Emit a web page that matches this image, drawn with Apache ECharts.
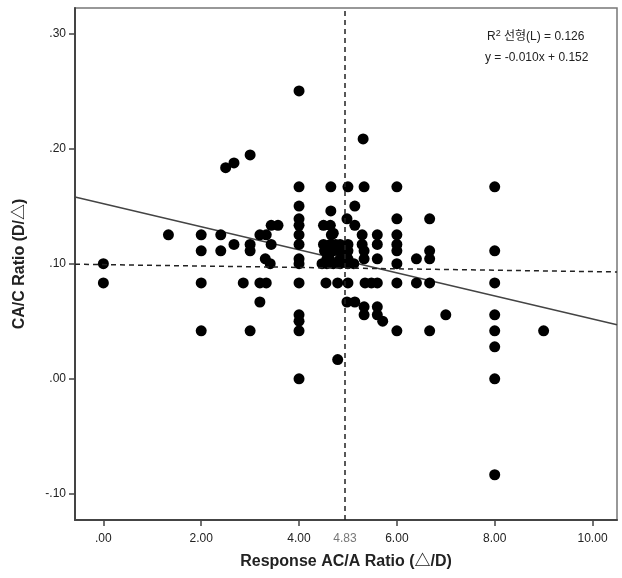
<!DOCTYPE html>
<html>
<head>
<meta charset="utf-8">
<script src="https://cdn.jsdelivr.net/npm/echarts@6/dist/echarts.min.js"></script>
<style>
  html, body { margin: 0; padding: 0; background: #fff; }
  #chart { width: 622px; height: 578px; }
</style>
</head>
<body>
<div id="chart"></div>
<script>
// tick labels
var xTicks = [0, 2, 4, 6, 8, 10];
var yTicks = [-0.1, 0, 0.1, 0.2, 0.3];

// response AC/A ratio (x) and CA/C ratio (y)
var acaRatio = [
    0, 0,
    1.33,
    2, 2, 2, 2,
    2.4, 2.4,
    2.5, 2.67, 2.67,
    2.86,
    3, 3, 3, 3,
    3.2, 3.2, 3.2,
    3.33, 3.33, 3.31,
    3.43, 3.43, 3.41,
    3.57,
    4, 4, 4, 4, 4, 4, 4, 4, 4, 4, 4, 4, 4, 4,
    4.5, 4.5, 4.47, 4.55,
    4.65, 4.65, 4.64, 4.64, 4.7, 4.7, 4.62, 4.57, 4.7,
    4.57, 4.75, 4.52, 4.66,
    4.84, 4.84, 4.84, 4.84, 4.79, 4.79,
    5, 4.98, 5, 5, 5, 5, 5, 4.98,
    5.14, 5.14, 5.12, 5.14,
    5.31, 5.33, 5.29, 5.29, 5.33, 5.33, 5.35, 5.33, 5.33,
    5.48,
    5.6, 5.6, 5.6, 5.6, 5.6, 5.6,
    5.71,
    6, 6, 6, 6, 6, 6, 6, 6,
    6.4, 6.4,
    6.67, 6.67, 6.67, 6.67, 6.67,
    7,
    8, 8, 8, 8, 8, 8, 8, 8,
    9
];
var cacRatio = [
    0.1, 0.0833,
    0.125,
    0.125, 0.1111, 0.0833, 0.0417,
    0.125, 0.1111,
    0.1833, 0.1875, 0.1167,
    0.0833,
    0.1944, 0.1167, 0.1111, 0.0417,
    0.125, 0.0833, 0.0667,
    0.125, 0.0833, 0.1042,
    0.1333, 0.1167, 0.1,
    0.1333,
    0.25, 0.1667, 0.15, 0.1389, 0.1333, 0.125, 0.1167, 0.1042, 0.1, 0.0833, 0.0556, 0.05, 0.0417, 0,
    0.1333, 0.1167, 0.1, 0.0833,
    0.1667, 0.1458, 0.1333, 0.1167, 0.1264, 0.1111, 0.1042, 0.1, 0.1,
    0.1042, 0.1167, 0.1111, 0.125,
    0.1167, 0.1111, 0.1042, 0.1, 0.0833, 0.0167,
    0.1667, 0.1389, 0.1167, 0.1111, 0.1042, 0.1, 0.0833, 0.0667,
    0.15, 0.1333, 0.1, 0.0667,
    0.2083, 0.1667, 0.125, 0.1167, 0.1111, 0.1042, 0.0833, 0.0625, 0.0556,
    0.0833,
    0.125, 0.1167, 0.1042, 0.0833, 0.0625, 0.0556,
    0.05,
    0.1667, 0.1389, 0.125, 0.1167, 0.1111, 0.1, 0.0833, 0.0417,
    0.1042, 0.0833,
    0.1389, 0.1111, 0.1042, 0.0833, 0.0417,
    0.0556,
    0.1667, 0.1111, 0.0833, 0.0556, 0.0417, 0.0278, 0, -0.0833,
    0.0417
];

// linear fit shown in the plot
var fitSlope = -0.010;
var fitIntercept = 0.152;
var xRange = [-0.58, 10.5];
var yRange = [-0.1226, 0.322];
// reference lines: mean x (label 4.83), mean y
var meanXPos = 4.94;
var meanXLabel = '4.83';
var meanYLine = [0.0995, 0.0928];

var fontMain = 'Liberation Sans, Arial, Noto Sans CJK KR, sans-serif';

function spssFmt(v) {
    var s = v.toFixed(2);
    return s.replace(/^(-?)0\./, '$1.');
}

var points = acaRatio.map(function (x, i) { return [x, cacRatio[i]]; });
var fitLine = xRange.map(function (x) { return [x, fitIntercept + fitSlope * x]; });

var chart = echarts.init(document.getElementById('chart'));
var option = {
    animation: false,
    backgroundColor: '#fff',
    grid: {
        left: 75,
        right: 5,
        top: 8,
        bottom: 58,
        show: true,
        borderColor: '#777',
        borderWidth: 1.5
    },
    xAxis: {
        type: 'value',
        min: xRange[0],
        max: xRange[1],
        name: 'Response AC/A Ratio (△/D)',
        nameLocation: 'middle',
        nameGap: 34,
        nameTextStyle: { fontFamily: fontMain, fontWeight: 'bold', fontSize: 16, color: '#222' },
        axisLine: { show: true, onZero: false, lineStyle: { color: '#444', width: 2 } },
        axisTick: { show: true, length: 6, customValues: xTicks, lineStyle: { color: '#444', width: 1.5 } },
        axisLabel: {
            customValues: xTicks,
            margin: 13,
            fontFamily: fontMain,
            fontSize: 12,
            color: '#222',
            formatter: spssFmt
        },
        splitLine: { show: false }
    },
    yAxis: {
        type: 'value',
        min: yRange[0],
        max: yRange[1],
        name: 'CA/C Ratio (D/△)',
        nameLocation: 'middle',
        nameGap: 47,
        nameTextStyle: { fontFamily: fontMain, fontWeight: 'bold', fontSize: 16, color: '#222' },
        axisLine: { show: true, onZero: false, lineStyle: { color: '#444', width: 2 } },
        axisTick: { show: true, length: 6, customValues: yTicks, lineStyle: { color: '#444', width: 1.5 } },
        axisLabel: {
            customValues: yTicks,
            margin: 9,
            fontFamily: fontMain,
            fontSize: 12,
            color: '#222',
            formatter: spssFmt
        },
        splitLine: { show: false }
    },
    series: [
        {
            name: 'fit',
            type: 'line',
            data: fitLine,
            symbol: 'none',
            lineStyle: { color: '#444', width: 1.5 },
            z: 2,
            markLine: {
                silent: true,
                symbol: 'none',
                lineStyle: { color: '#222', type: [5, 4], width: 1.5 },
                data: [
                    {
                        xAxis: meanXPos,
                        label: {
                            show: true,
                            position: 'start',
                            distance: 13,
                            formatter: meanXLabel,
                            color: '#777',
                            fontFamily: fontMain,
                            fontSize: 12
                        }
                    },
                    [
                        { coord: [xRange[0], meanYLine[0]], label: { show: false } },
                        { coord: [xRange[1], meanYLine[1]], label: { show: false } }
                    ]
                ]
            }
        },
        {
            name: 'data',
            type: 'scatter',
            data: points,
            symbolSize: 11,
            itemStyle: { color: '#000', opacity: 1 },
            z: 3
        }
    ],
    graphic: [
        {
            type: 'text',
            left: 487,
            top: 29,
            style: {
                text: '{b|R}{s|2} {b|선형(L) = 0.126}',
                rich: {
                    b: { fontFamily: fontMain, fontSize: 12, fill: '#222' },
                    s: { fontFamily: fontMain, fontSize: 9, fill: '#222', verticalAlign: 'top', padding: [0, 0, 6, 0] }
                }
            }
        },
        {
            type: 'text',
            left: 485,
            top: 52,
            style: {
                text: 'y = -0.010x + 0.152',
                fontFamily: fontMain,
                fontSize: 12,
                fill: '#222'
            }
        }
    ]
};
chart.setOption(option);
</script>
</body>
</html>
